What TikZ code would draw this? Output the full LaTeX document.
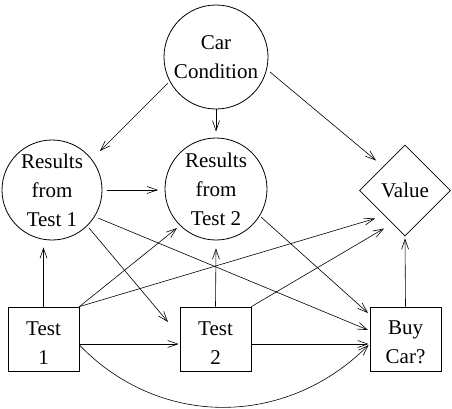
\documentclass[tikz,border=0pt]{standalone}
\usepackage{fontspec}
\setmainfont{Liberation Serif}
\usetikzlibrary{shapes.geometric,arrows.meta,calc}
\newcommand{\topstrut}{\rule{0pt}{21pt}}
\begin{document}
\begin{tikzpicture}[x=1pt,y=-1pt,
  every node/.style={font=\fontsize{21}{29}\selectfont, align=center, line width=0.8pt},
  chance/.style={circle, draw, inner sep=0pt},
  decision/.style={rectangle, draw, minimum width=71pt, minimum height=64pt, inner sep=0pt},
  utility/.style={diamond, draw, minimum size=91pt, inner sep=0pt},
  link/.style={line width=0.6pt, -{Straight Barb[length=10pt,width=7pt]}}]
\useasboundingbox (0,0) rectangle (452,408);
\node[chance, minimum size=104pt] (cc) at (216,57) {Car\\Condition};
\node[chance, minimum size=100pt] (rt1) at (52,190) {Results\\from\\Test 1};
\node[chance, minimum size=102pt] (rt2) at (216,189) {Results\\from\\Test 2};
\node[utility] (val) at (405,190.5) {Value};
\node[decision] (t1) at (43.5,339) {\topstrut Test\\1};
\node[decision] (t2) at (215.5,339) {\topstrut Test\\2};
\node[decision] (bc) at (405.5,339) {\topstrut Buy\\Car?};
% from Car Condition
\draw[link] ($(cc)+(-48,26)$) -- ($(rt1)+(48,-39)$);
\draw[link] (cc.south) -- ($(rt2.north)+(0,-6)$);
\draw[link] ($(cc)+(54,15)$) -- ($(val)+(-29,-30)$);
% from Results Test 1
\draw[link] ($(rt1)+(55,0)$) -- ($(rt2)+(-58,1)$);
\draw[link] ($(rt1)+(37,38)$) -- ($(t2)+(-47.5,-17)$);
\draw[link] ($(rt1)+(46,28)$) -- ($(bc)+(-37.5,-9)$);
% from Results Test 2
\draw[link] ($(rt2)+(45,28)$) -- ($(bc)+(-37.5,-26)$);
% from Test 1
\draw[link] (t1.north) -- ($(t1.north |- rt1.south)+(0,7)$);
\draw[link] (t1.north east) -- ($(rt2)+(-39,39)$);
\draw[link] (t1.north east) -- ($(val)+(-30,28)$);
\draw[link] ($(t1.east)+(0,5)$) -- ($(t2.west)+(-1,5)$);
\draw[link] ($(t1.east)+(0,6)$) .. controls +(80,83) and +(-83,83) .. ($(bc.west)+(-1,6)$);
% from Test 2
\draw[link] (t2.north) -- ($(rt2.south)+(0,8)$);
\draw[link] (t2.north east) -- ($(val)+(-21,38)$);
\draw[link] ($(t2.east)+(0,5)$) -- ($(bc.west)+(-1,5)$);
% from Buy Car
\draw[link] (bc.north) -- ($(val.south)+(0,2)$);
\end{tikzpicture}
\end{document}
